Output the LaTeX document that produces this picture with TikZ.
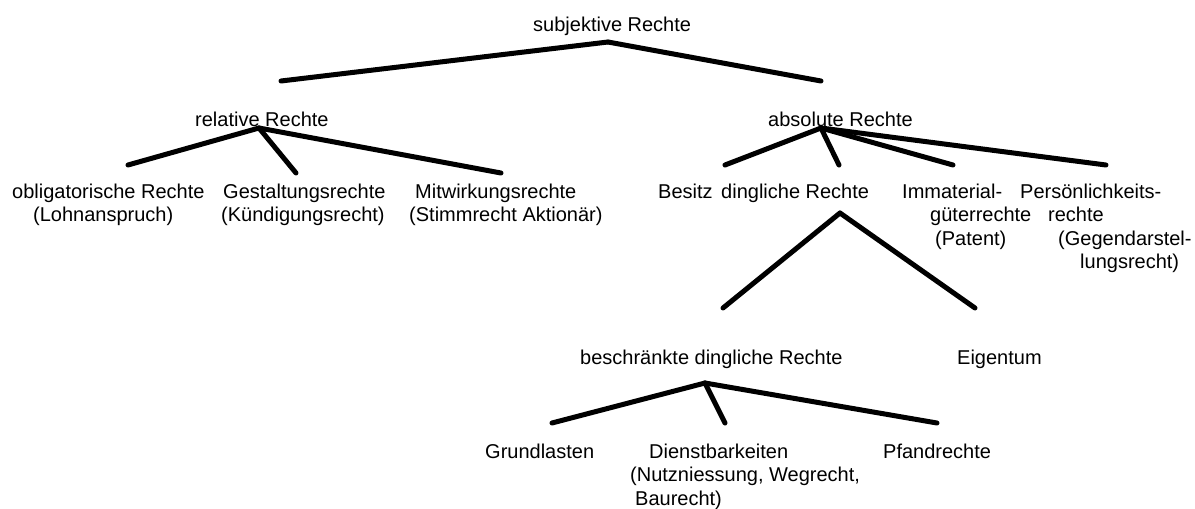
\documentclass[tikz,border=0pt]{standalone}
\usepackage{fontspec}
\setmainfont{Liberation Sans}
\begin{document}
\begin{tikzpicture}[x=1pt,y=-1pt,
  lbl/.style={anchor=base west,inner sep=0pt,font=\fontsize{20}{23.5}\selectfont},
  branch/.style={line width=5pt,line cap=round,line join=round}]
\useasboundingbox (0,0) rectangle (1195,509);
% labels
\node[lbl] (subj) at (533,31) {subjektive Rechte};
\node[lbl] (rel) at (195,126) {relative Rechte};
\node[lbl] (abs) at (768,126) {absolute Rechte};
\node[lbl] (obl) at (12,198) {\vtop{\hbox{obligatorische Rechte}\hbox{\hspace*{21pt}(Lohnanspruch)}}};
\node[lbl] (gest) at (221,198) {\vtop{\hbox{\hspace*{2pt}Gestaltungsrechte}\hbox{(Kündigungsrecht)}}};
\node[lbl] (mitw) at (409,198) {\vtop{\hbox{\hspace*{6pt}Mitwirkungsrechte}\hbox{(Stimmrecht Aktionär)}}};
\node[lbl] (bes) at (658,198) {Besitz};
\node[lbl] (ding) at (721,198) {dingliche Rechte};
\node[lbl] (imm) at (902,198) {\vtop{\hbox{Immaterial-}\hbox{\hspace*{28pt}güterrechte}\hbox{\hspace*{33pt}(Patent)}}};
\node[lbl] (pers) at (1020,198) {\vtop{\hbox{Persönlichkeits-}\hbox{\hspace*{28pt}rechte}\hbox{\hspace*{38pt}(Gegendarstel-}\hbox{\hspace*{60pt}lungsrecht)}}};
\node[lbl] (bdr) at (580,364) {beschränkte dingliche Rechte};
\node[lbl] (eig) at (957,364) {Eigentum};
\node[lbl] (grund) at (485,458) {Grundlasten};
\node[lbl] (dienst) at (630,458) {\vtop{\hbox{\hspace*{19pt}Dienstbarkeiten}\hbox{(Nutzniessung, Wegrecht,}\hbox{\hspace*{5pt}Baurecht)}}};
\node[lbl] (pfand) at (883,458) {Pfandrechte};
% branch points
\coordinate (subjA) at (608,42);
\coordinate (relT) at (281,81);
\coordinate (absT) at (821,81);
\coordinate (relA) at (259,128);
\coordinate (oblT) at (128,165);
\coordinate (gestT) at (296,173);
\coordinate (mitwT) at (501,173);
\coordinate (absA) at (821,128);
\coordinate (besT) at (725,165);
\coordinate (dingT) at (839,165);
\coordinate (immT) at (953,165);
\coordinate (persT) at (1106,165);
\coordinate (dingA) at (840,213);
\coordinate (bdrT) at (723,308);
\coordinate (eigT) at (975,308);
\coordinate (bdrA) at (705,383);
\coordinate (grundT) at (552,423);
\coordinate (dienstT) at (725,423);
\coordinate (pfandT) at (937,423);
% connectors
\draw[branch] (subjA) -- (relT);
\draw[branch] (subjA) -- (absT);
\draw[branch] (relA) -- (oblT);
\draw[branch] (relA) -- (gestT);
\draw[branch] (relA) -- (mitwT);
\draw[branch] (absA) -- (besT);
\draw[branch] (absA) -- (dingT);
\draw[branch] (absA) -- (immT);
\draw[branch] (absA) -- (persT);
\draw[branch] (dingA) -- (bdrT);
\draw[branch] (dingA) -- (eigT);
\draw[branch] (bdrA) -- (grundT);
\draw[branch] (bdrA) -- (dienstT);
\draw[branch] (bdrA) -- (pfandT);
\end{tikzpicture}
\end{document}
